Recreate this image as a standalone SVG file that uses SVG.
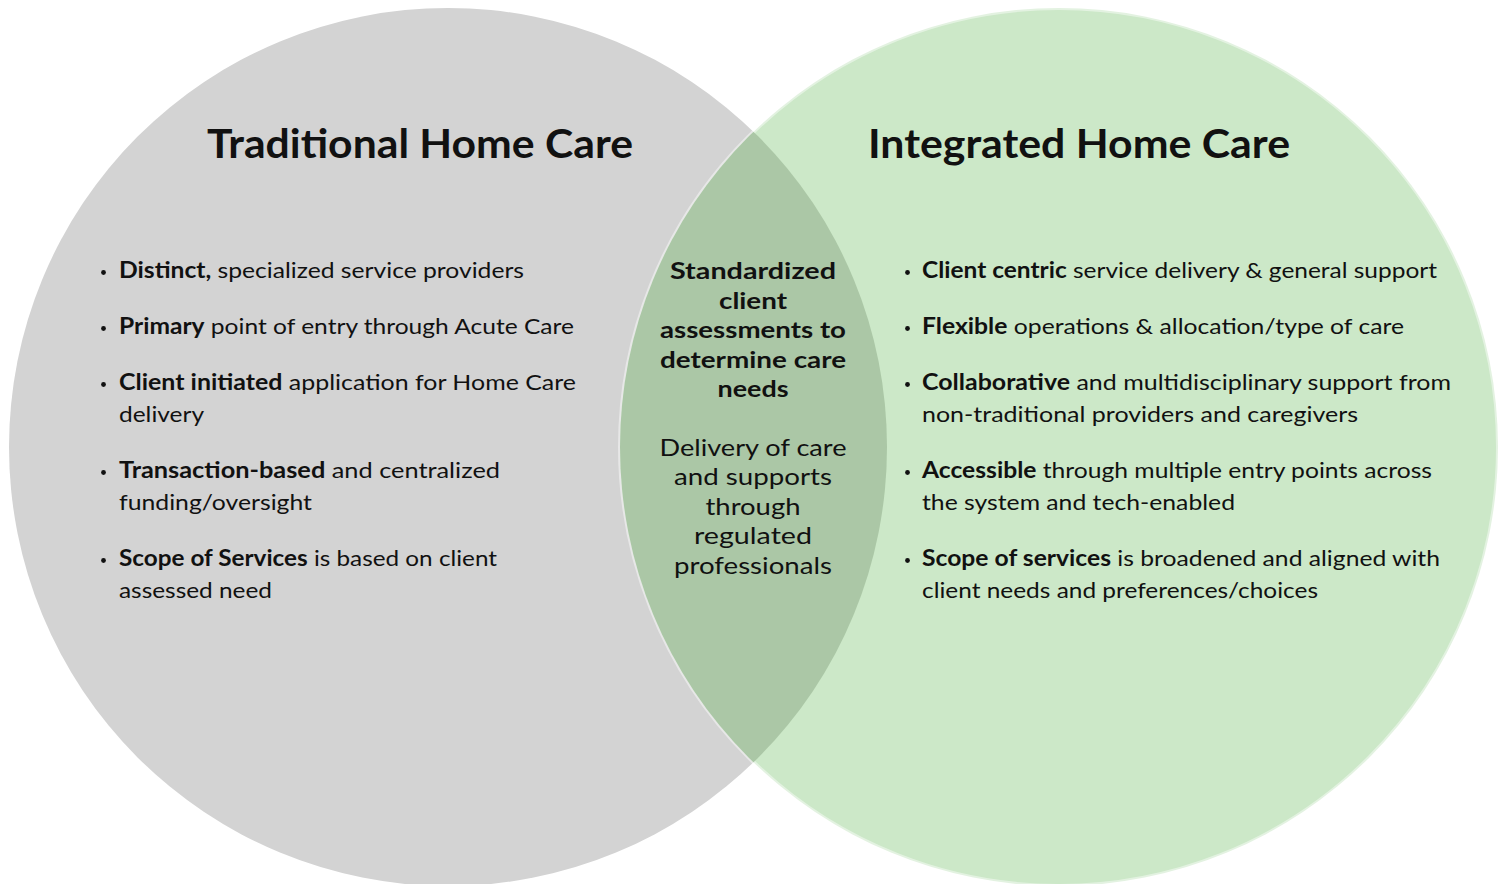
<svg xmlns="http://www.w3.org/2000/svg" width="1504" height="884" viewBox="0 0 1504 884">
  <style>
    text { font-family: Lato, "Noto Sans", "Liberation Sans", sans-serif; fill: #111; }
    .title { font-size: 41px; font-weight: 700; text-anchor: middle; }
    .item { font-size: 22px; }
    .b { font-weight: 700; }
    .mid { font-size: 23px; text-anchor: middle; }
    .dot { fill: #111; }
  </style>
  <defs>
    <clipPath id="leftClip">
      <circle cx="448" cy="447" r="439"/>
    </clipPath>
  </defs>

  <!-- circles -->
  <g id="traditional-circle">
    <circle cx="448" cy="447" r="439" fill="#d3d3d3"/>
  </g>
  <g id="integrated-circle">
    <circle cx="1059" cy="447" r="439" fill="#cce8c8" stroke="#ffffff" stroke-opacity="0.45" stroke-width="4"/>
  </g>
  <g id="overlap">
    <circle cx="1059" cy="447" r="439" fill="#abc7a6" clip-path="url(#leftClip)"/>
  </g>

  <!-- Traditional Home Care -->
  <g id="traditional">
    <text class="title" x="420" y="158" textLength="426" lengthAdjust="spacingAndGlyphs">Traditional Home Care</text>
    <g class="dots">
      <circle class="dot" cx="103.5" cy="272.5" r="2.4"/>
      <circle class="dot" cx="103.5" cy="328.5" r="2.4"/>
      <circle class="dot" cx="103.5" cy="384.5" r="2.4"/>
      <circle class="dot" cx="103.5" cy="472.5" r="2.4"/>
      <circle class="dot" cx="103.5" cy="560.5" r="2.4"/>
    </g>
    <text class="item" x="119" y="278" textLength="405" lengthAdjust="spacingAndGlyphs"><tspan class="b">Distinct,</tspan> specialized service providers</text>
    <text class="item" x="119" y="334" textLength="455" lengthAdjust="spacingAndGlyphs"><tspan class="b">Primary</tspan> point of entry through Acute Care</text>
    <text class="item" x="119" y="390" textLength="457" lengthAdjust="spacingAndGlyphs"><tspan class="b">Client initiated</tspan> application for Home Care</text>
    <text class="item" x="119" y="422" textLength="85" lengthAdjust="spacingAndGlyphs">delivery</text>
    <text class="item" x="119" y="478" textLength="381" lengthAdjust="spacingAndGlyphs"><tspan class="b">Transaction-based</tspan> and centralized</text>
    <text class="item" x="119" y="510" textLength="193" lengthAdjust="spacingAndGlyphs">funding/oversight</text>
    <text class="item" x="119" y="566" textLength="378" lengthAdjust="spacingAndGlyphs"><tspan class="b">Scope of Services</tspan> is based on client</text>
    <text class="item" x="119" y="598" textLength="153" lengthAdjust="spacingAndGlyphs">assessed need</text>
  </g>

  <!-- Integrated Home Care -->
  <g id="integrated">
    <text class="title" x="1079" y="158" textLength="422" lengthAdjust="spacingAndGlyphs">Integrated Home Care</text>
    <g class="dots">
      <circle class="dot" cx="907.5" cy="272.5" r="2.4"/>
      <circle class="dot" cx="907.5" cy="328.5" r="2.4"/>
      <circle class="dot" cx="907.5" cy="384.5" r="2.4"/>
      <circle class="dot" cx="907.5" cy="472.5" r="2.4"/>
      <circle class="dot" cx="907.5" cy="560.5" r="2.4"/>
    </g>
    <text class="item" x="922" y="278" textLength="515" lengthAdjust="spacingAndGlyphs"><tspan class="b">Client centric</tspan> service delivery &amp; general support</text>
    <text class="item" x="922" y="334" textLength="482" lengthAdjust="spacingAndGlyphs"><tspan class="b">Flexible</tspan> operations &amp; allocation/type of care</text>
    <text class="item" x="922" y="390" textLength="529" lengthAdjust="spacingAndGlyphs"><tspan class="b">Collaborative</tspan> and multidisciplinary support from</text>
    <text class="item" x="922" y="422" textLength="436" lengthAdjust="spacingAndGlyphs">non-traditional providers and caregivers</text>
    <text class="item" x="922" y="478" textLength="510" lengthAdjust="spacingAndGlyphs"><tspan class="b">Accessible</tspan> through multiple entry points across</text>
    <text class="item" x="922" y="510" textLength="313" lengthAdjust="spacingAndGlyphs">the system and tech-enabled</text>
    <text class="item" x="922" y="566" textLength="518" lengthAdjust="spacingAndGlyphs"><tspan class="b">Scope of services</tspan> is broadened and aligned with</text>
    <text class="item" x="922" y="598" textLength="396" lengthAdjust="spacingAndGlyphs">client needs and preferences/choices</text>
  </g>

  <!-- shared centre -->
  <g id="shared">
    <text class="mid b" x="753" y="279" textLength="166" lengthAdjust="spacingAndGlyphs">Standardized</text>
    <text class="mid b" x="753" y="309" textLength="68" lengthAdjust="spacingAndGlyphs">client</text>
    <text class="mid b" x="753" y="338" textLength="186" lengthAdjust="spacingAndGlyphs">assessments to</text>
    <text class="mid b" x="753" y="368" textLength="186" lengthAdjust="spacingAndGlyphs">determine care</text>
    <text class="mid b" x="753" y="397" textLength="71" lengthAdjust="spacingAndGlyphs">needs</text>
    <text class="mid" x="753" y="456" textLength="187" lengthAdjust="spacingAndGlyphs" style="font-size:24px">Delivery of care</text>
    <text class="mid" x="753" y="485" textLength="158" lengthAdjust="spacingAndGlyphs" style="font-size:24px">and supports</text>
    <text class="mid" x="753" y="515" textLength="95" lengthAdjust="spacingAndGlyphs" style="font-size:24px">through</text>
    <text class="mid" x="753" y="544" textLength="118" lengthAdjust="spacingAndGlyphs" style="font-size:24px">regulated</text>
    <text class="mid" x="753" y="574" textLength="158" lengthAdjust="spacingAndGlyphs" style="font-size:24px">professionals</text>
  </g>
</svg>
